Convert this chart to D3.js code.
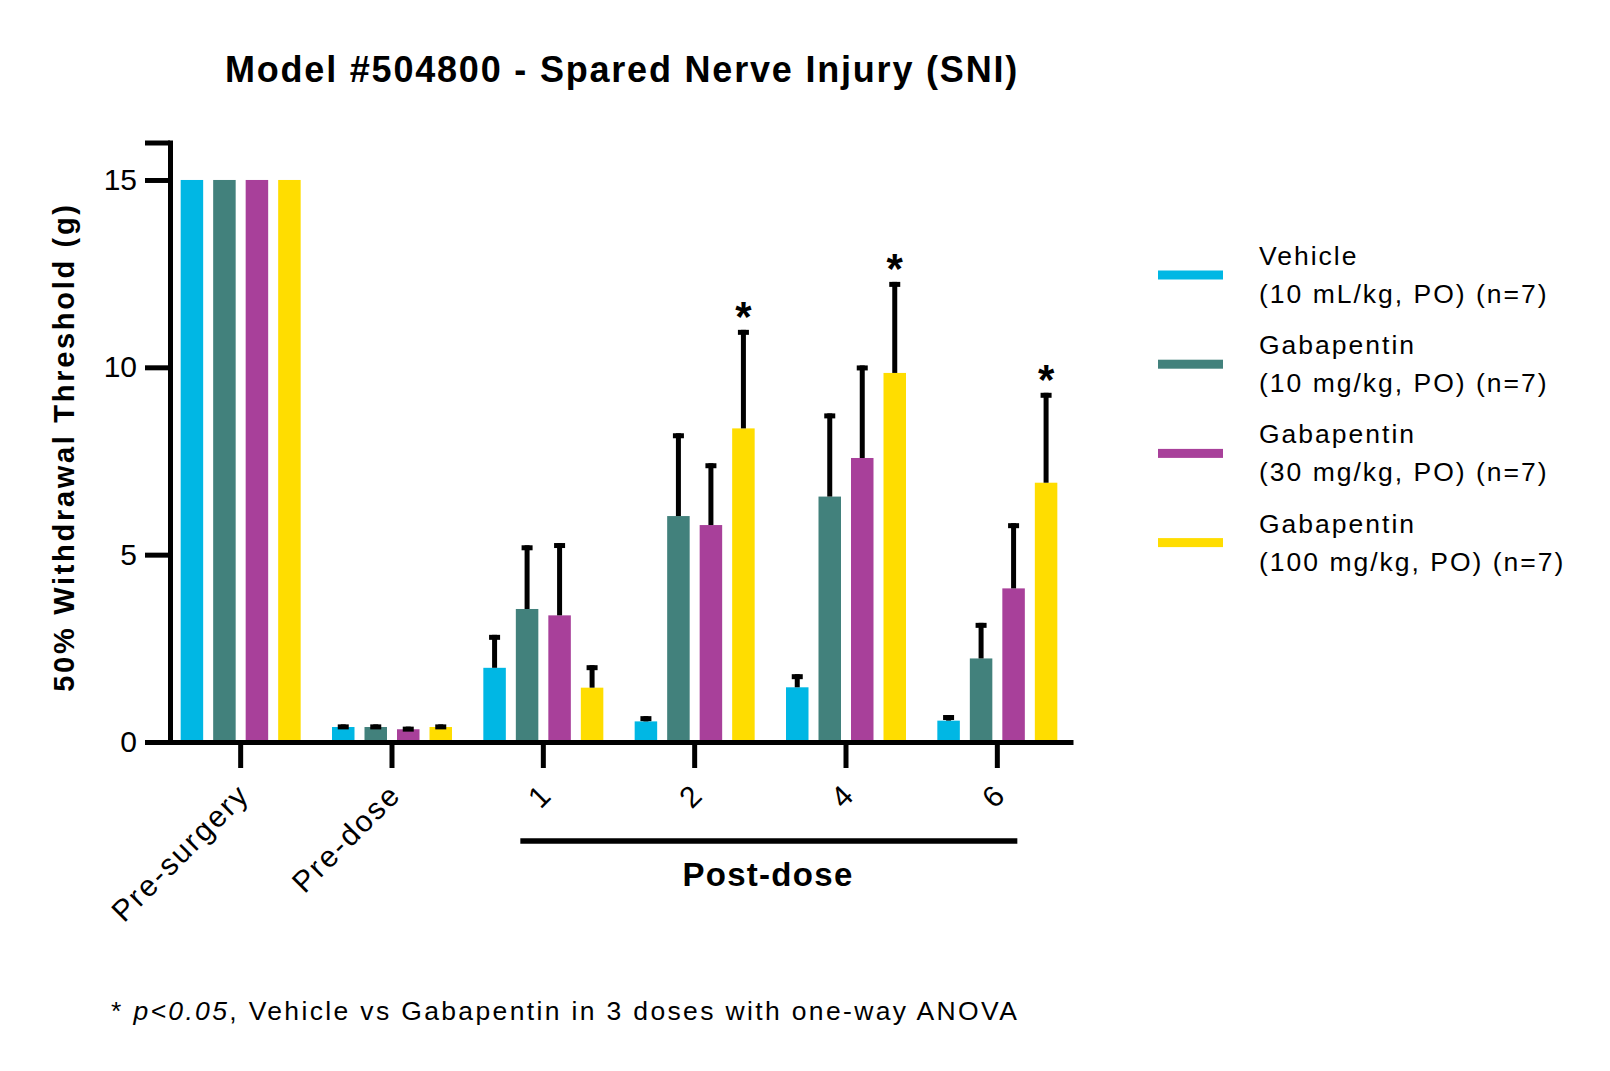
<!DOCTYPE html>
<html>
<head>
<meta charset="utf-8">
<script src="https://cdn.jsdelivr.net/npm/d3@7"></script>
<style>
  body { margin: 0; background: #fff; }
  text { font-family: "Liberation Sans", Arial, sans-serif; fill: #000; }
</style>
</head>
<body>
<script>
// groups along the x axis (time points)
const groups = ["Pre-surgery", "Pre-dose", "1", "2", "4", "6"];
const series = ["veh", "g10", "g30", "g100"];
const seriesLabels = [
    ["Vehicle", "(10 mL/kg, PO) (n=7)"],
    ["Gabapentin", "(10 mg/kg, PO) (n=7)"],
    ["Gabapentin", "(30 mg/kg, PO) (n=7)"],
    ["Gabapentin", "(100 mg/kg, PO) (n=7)"]
];
const colors = ["#00b7e4", "#42817c", "#a8409a", "#ffdd00"];

// means, one value per group
const veh  = [15, 0.40, 1.98, 0.55, 1.46, 0.57];
const g10  = [15, 0.40, 3.55, 6.03, 6.55, 2.23];
const g30  = [15, 0.34, 3.38, 5.79, 7.58, 4.10];
const g100 = [15, 0.40, 1.45, 8.37, 9.85, 6.92];
// SEM (upper error bar)
const vehErr  = [0, 0.07, 0.88, 0.14, 0.35, 0.15];
const g10Err  = [0, 0.07, 1.70, 2.21, 2.22, 0.95];
const g30Err  = [0, 0.07, 1.93, 1.65, 2.47, 1.74];
const g100Err = [0, 0.07, 0.60, 2.63, 2.43, 2.40];
// significance marks (p<0.05) for Gabapentin 100
const stars = [false, false, false, true, true, true];

const yTicks = [0, 5, 10, 15];

const means = [veh, g10, g30, g100];
const errs = [vehErr, g10Err, g30Err, g100Err];

let bars = [];
groups.forEach((g, gi) => {
    series.forEach((s, si) => {
        bars.push({group: g, series: s, si: si, value: means[si][gi], err: errs[si][gi],
                   star: si === 3 && stars[gi]});
    });
});

const W = 1610, H = 1071;
const svg = d3.select("body").append("svg")
    .attr("width", W)
    .attr("height", H);

const x0 = d3.scaleBand()
    .domain(groups)
    .range([165, 1073])
    .padding(0);

const x1 = d3.scaleBand()
    .domain(series)
    .range([0, 120])
    .paddingInner(0.3077);

const groupOffset = (x0.bandwidth() - 120) / 2;

const y = d3.scaleLinear()
    .domain([0, 16])
    .range([742, 142.5]);

// title
svg.append("text")
    .attr("x", 622)
    .attr("y", 82)
    .attr("text-anchor", "middle")
    .style("font-size", "36px")
    .style("font-weight", "bold")
    .style("letter-spacing", "1.8px")
    .text("Model #504800 - Spared Nerve Injury (SNI)");

// bars
svg.append("g").selectAll("rect")
    .data(bars)
    .join("rect")
    .attr("x", d => x0(d.group) + groupOffset + x1(d.series))
    .attr("y", d => y(d.value))
    .attr("width", x1.bandwidth())
    .attr("height", d => y(0) - y(d.value))
    .attr("fill", d => colors[d.si]);

// error bars (upper only)
const eb = svg.append("g").selectAll("g")
    .data(bars.filter(d => d.err > 0))
    .join("g")
    .attr("transform", d => "translate(" + (x0(d.group) + groupOffset + x1(d.series) + x1.bandwidth() / 2) + ",0)");

eb.append("line")
    .attr("y1", d => y(d.value))
    .attr("y2", d => y(d.value + d.err))
    .attr("stroke", "#000")
    .attr("stroke-width", 5);

eb.append("rect")
    .attr("x", -5.5)
    .attr("y", d => y(d.value + d.err))
    .attr("width", 11)
    .attr("height", 5)
    .attr("fill", "#000");

// stars
svg.append("g").selectAll("text")
    .data(bars.filter(d => d.star))
    .join("text")
    .attr("x", d => x0(d.group) + groupOffset + x1(d.series) + x1.bandwidth() / 2)
    .attr("y", d => y(d.value + d.err) + 1)
    .attr("text-anchor", "middle")
    .style("font-size", "42px")
    .style("font-weight", "bold")
    .text("*");

// y axis
const yAxis = svg.append("g")
    .attr("transform", "translate(170,0)")
    .call(d3.axisLeft(y).tickValues(yTicks.concat([16])).tickSize(25).tickSizeOuter(0).tickPadding(8)
        .tickFormat(d => d === 16 ? "" : d));
yAxis.select(".domain").attr("stroke-width", 5).attr("stroke-linecap", "square");
yAxis.selectAll(".tick line").attr("stroke-width", 5);
yAxis.selectAll(".tick text")
    .style("font-size", "30px")
    .attr("font-family", null);

// x axis
const xAxis = svg.append("g")
    .attr("transform", "translate(0,742)")
    .call(d3.axisBottom(x0).tickSize(26).tickSizeOuter(0));
xAxis.select(".domain").attr("stroke-width", 5);
xAxis.selectAll(".tick line").attr("stroke-width", 5);
xAxis.selectAll(".tick text")
    .attr("x", 0)
    .attr("y", 0)
    .attr("dy", "0.35em")
    .attr("text-anchor", "end")
    .attr("transform", "translate(3,47) rotate(-45)")
    .attr("font-family", null)
    .style("font-size", "30px")
    .style("letter-spacing", "2.1px");

// y label
svg.append("text")
    .attr("transform", "translate(74,447) rotate(-90)")
    .attr("text-anchor", "middle")
    .style("font-size", "29px")
    .style("font-weight", "bold")
    .style("letter-spacing", "2.7px")
    .text("50% Withdrawal Threshold (g)");

// post-dose bracket
svg.append("line")
    .attr("x1", x0("1") + x0.bandwidth() / 2 - 23)
    .attr("x2", x0("6") + x0.bandwidth() / 2 + 20)
    .attr("y1", 841)
    .attr("y2", 841)
    .attr("stroke", "#000")
    .attr("stroke-width", 5.5);

svg.append("text")
    .attr("x", 768)
    .attr("y", 886)
    .attr("text-anchor", "middle")
    .style("font-size", "33px")
    .style("font-weight", "bold")
    .style("letter-spacing", "1.3px")
    .text("Post-dose");

// legend
const legend = svg.append("g").selectAll("g")
    .data(seriesLabels)
    .join("g")
    .attr("transform", (d, i) => "translate(0," + (275 + i * 89.2) + ")");

legend.append("rect")
    .attr("x", 1158)
    .attr("y", -4.5)
    .attr("width", 65)
    .attr("height", 9)
    .attr("fill", (d, i) => colors[i]);

legend.append("text")
    .attr("x", 1259)
    .attr("y", -10)
    .style("font-size", "26.5px")
    .style("letter-spacing", "2px")
    .text(d => d[0]);

legend.append("text")
    .attr("x", 1259)
    .attr("y", 28)
    .style("font-size", "26.5px")
    .style("letter-spacing", "2px")
    .text(d => d[1]);

// footnote
const foot = svg.append("text")
    .attr("x", 111)
    .attr("y", 1020)
    .style("font-size", "26.5px")
    .style("letter-spacing", "2.35px");
foot.append("tspan").text("* ");
foot.append("tspan").style("font-style", "italic").text("p<0.05");
foot.append("tspan").text(", Vehicle vs Gabapentin in 3 doses with one-way ANOVA");
</script>
</body>
</html>
